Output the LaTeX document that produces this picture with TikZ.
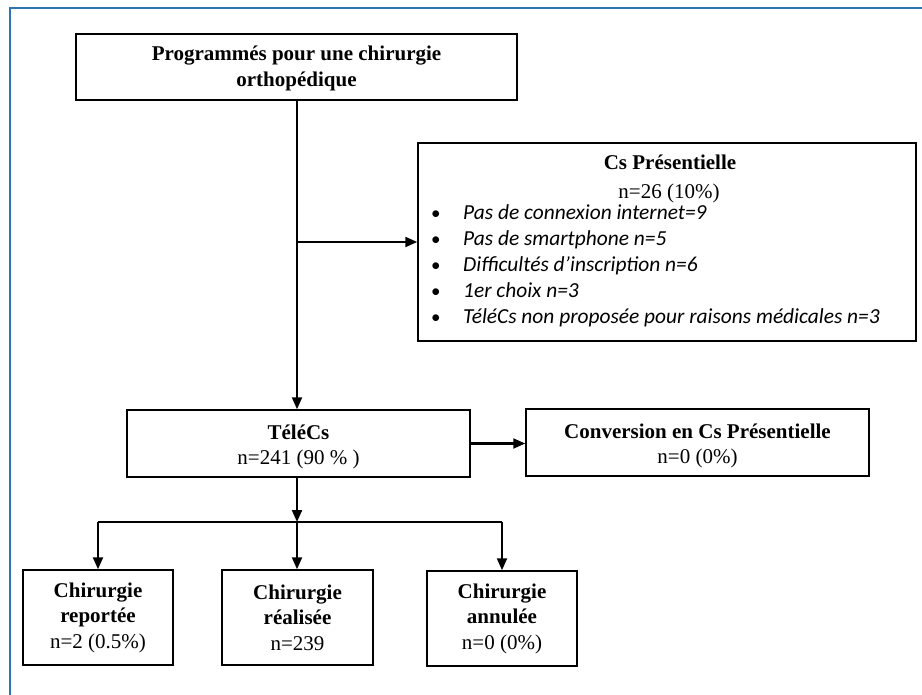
\documentclass[tikz,border=0pt]{standalone}
\usepackage{fontspec}
\setmainfont{Liberation Serif}
\newfontfamily\calfont{Carlito}
\usetikzlibrary{arrows.meta}
\definecolor{frameblue}{RGB}{46,117,182}
\begin{document}
\begin{tikzpicture}[x=1pt,y=-1pt,
  box/.style={draw, line width=1.5pt, inner sep=0pt, align=center,
    font=\fontsize{21}{25.5}\selectfont},
  conn/.style={line width=2.1pt, -{Triangle[length=12pt,width=10pt]}},
  plain/.style={line width=2.1pt},
  bultext/.style={anchor=base west, inner sep=0pt,
    font=\calfont\itshape\fontsize{21.4}{25}\selectfont},
  bulmark/.style={anchor=base west, inner sep=0pt,
    font=\calfont\fontsize{19}{25}\selectfont},
  head/.style={anchor=base, inner sep=0pt, font=\fontsize{21}{25}\selectfont}]
\fill[white] (0,0) rectangle (922,695);
\useasboundingbox (0,0) rectangle (922,695);
\draw[frameblue, line width=2pt] (10,695) -- (10,8) -- (922,8);

% top box
\node[box, minimum width=441pt, minimum height=66pt] (top) at (296.5,67)
  {\rule{0pt}{17pt}\textbf{Programmés pour une chirurgie}\\\textbf{orthopédique}};

% Cs presentielle box
\node[draw, line width=1.5pt, inner sep=0pt, minimum width=498pt, minimum height=198pt] (cs) at (667,242) {};
\node[head] (csh) at (670,170) {\textbf{Cs Présentielle}};
\node[head] (csn) at (669,199) {n=26 (10\%)};
\node[bulmark] (b1) at (431,220) {•};
\node[bultext] (t1) at (463,220) {Pas de connexion internet=9};
\node[bulmark] (b2) at (431,245.8) {•};
\node[bultext] (t2) at (463,245.8) {Pas de smartphone n=5};
\node[bulmark] (b3) at (431,271.6) {•};
\node[bultext] (t3) at (463,271.6) {Difficultés d’inscription n=6};
\node[bulmark] (b4) at (431,297.4) {•};
\node[bultext] (t4) at (463,297.4) {1er choix n=3};
\node[bulmark] (b5) at (431,323.2) {•};
\node[bultext] (t5) at (463,323.2) {TéléCs non proposée pour raisons médicales n=3};

% TeleCs and conversion
\node[box, minimum width=343pt, minimum height=67pt] (tele) at (298.5,443.5)
  {\rule{0pt}{21pt}\textbf{TéléCs}\\n=241 (90 \% )};
\node[box, minimum width=343pt, minimum height=67pt] (conv) at (697.5,442.5)
  {\rule{0pt}{21pt}\textbf{Conversion en Cs Présentielle}\\n=0 (0\%)};

% bottom boxes
\node[box, minimum width=150pt, minimum height=95pt] (rep) at (98,617.5)
  {\textbf{Chirurgie}\\\textbf{reportée}\\n=2 (0.5\%)};
\node[box, minimum width=151pt, minimum height=95pt] (rea) at (297.5,617.5)
  {\textbf{Chirurgie}\\\textbf{réalisée}\\n=239};
\node[box, minimum width=150pt, minimum height=95pt] (ann) at (502,618.5)
  {\textbf{Chirurgie}\\\textbf{annulée}\\n=0 (0\%)};

% connectors
\coordinate (br) at (297,242);
\coordinate (jn) at (297,522);
\coordinate (jl) at (98,522);
\coordinate (jr) at (502,522);
\draw[conn] (top.south -| br) -- (tele.north -| br);
\draw[conn] (br) -- (cs.west);
\draw[conn] (tele.east) -- (tele.east -| conv.west);
\draw[conn] (tele.south -| jn) -- (jn);
\draw[plain] (jl) -- (jr);
\draw[conn] (jl) -- (rep.north -| jl);
\draw[conn] (jn) -- (rea.north -| jn);
\draw[conn] (jr) -- (ann.north -| jr);
\end{tikzpicture}
\end{document}
